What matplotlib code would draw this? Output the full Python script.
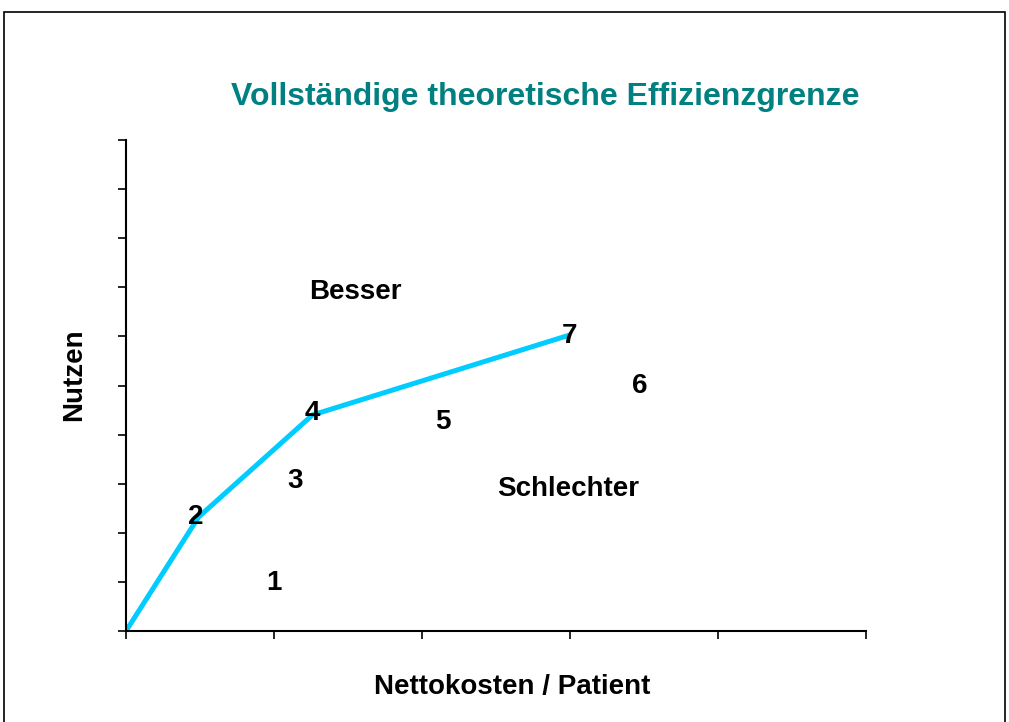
import matplotlib
matplotlib.use('Agg')
import matplotlib.pyplot as plt
from matplotlib.patches import Rectangle

# efficiency frontier vertices (data units)
front_x = [0.0, 0.49, 1.26, 3.0]
front_y = [0.0, 2.32, 4.40, 6.03]

# numbered alternatives
pt_labels = ['1', '2', '3', '4', '5', '6', '7']
pt_x = [1.0, 0.47, 1.14, 1.26, 2.14, 3.47, 3.0]
pt_y = [0.98, 2.32, 3.05, 4.44, 4.26, 4.99, 6.0]

# region labels
region_text = ['Besser', 'Schlechter']
region_x = [1.55, 2.99]
region_y = [6.9, 2.89]

x_ticks = [0, 1, 2, 3, 4, 5]
y_ticks = list(range(11))

plt.rcParams['font.family'] = ['Liberation Sans', 'DejaVu Sans']

fig = plt.figure(figsize=(10.09, 7.22), dpi=100)
ax = fig.add_axes([126/1009, 1 - 631/722, 740/1009, 491/722])

# outer frame
fig.patches.append(Rectangle((4/1009, -0.05), 1001/1009, 1.05 - 12/722,
                             transform=fig.transFigure, fill=False,
                             edgecolor='black', linewidth=1.2))

ax.plot(front_x, front_y, color='#00CCFF', linewidth=3.6, solid_capstyle='butt', zorder=2)

for lab, x, y in zip(pt_labels, pt_x, pt_y):
    ax.text(x, y, lab, ha='center', va='center', fontsize=20, fontweight='bold', zorder=3)

for lab, x, y in zip(region_text, region_x, region_y):
    ax.text(x, y, lab, ha='center', va='center', fontsize=20, fontweight='bold')

ax.set_xlim(0, 5)
ax.set_ylim(0, 10)
ax.set_xticks(x_ticks)
ax.set_yticks(y_ticks)
ax.set_xticklabels([])
ax.set_yticklabels([])
ax.tick_params(direction='out', length=6, width=1.2)
for s in ['top', 'right']:
    ax.spines[s].set_visible(False)
for s in ['left', 'bottom']:
    ax.spines[s].set_linewidth(1.5)

ax.set_xlabel('Nettokosten / Patient', fontsize=20, fontweight='bold')
ax.set_ylabel('Nutzen', fontsize=20, fontweight='bold')
ax.xaxis.set_label_coords(0.522, -0.088)
ax.yaxis.set_label_coords(-0.052, 0.523)

fig.text(545/1009, 1 - 97/722, 'Vollständige theoretische Effizienzgrenze',
         ha='center', va='center', fontsize=23, fontweight='bold', color='#008080')

fig.savefig('out.png', dpi=100)
